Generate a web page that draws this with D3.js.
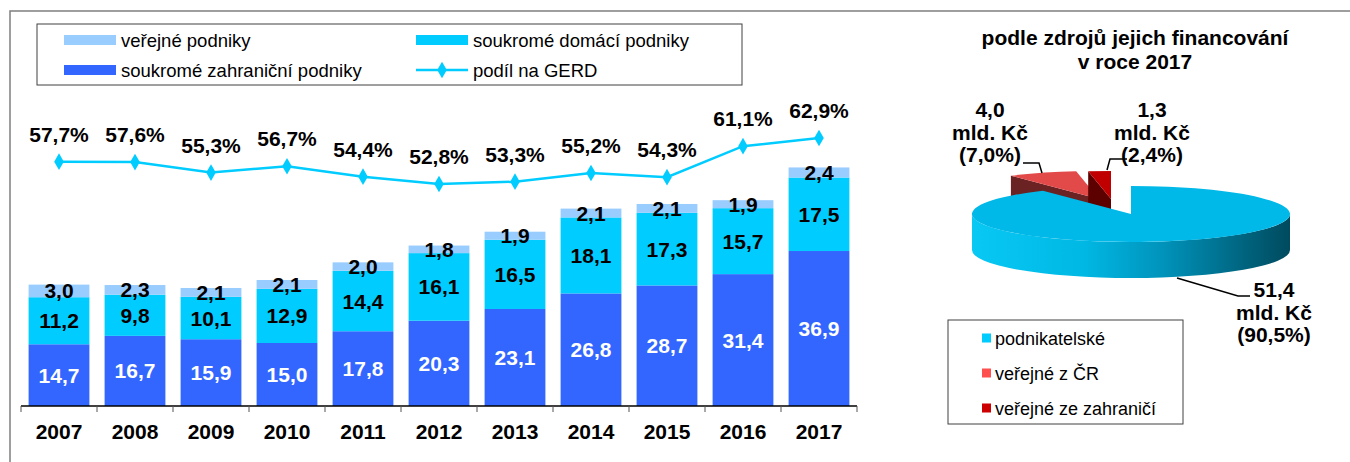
<!DOCTYPE html>
<html>
<head>
<meta charset="utf-8">
<script src="https://cdn.jsdelivr.net/npm/d3@7"></script>
<style>
  body { margin: 0; background: #fff; }
  svg { display: block; font-family: "Liberation Sans", Arial, sans-serif; }
</style>
</head>
<body>
<div id="wrapper"></div>
<script>
// DATA
const years = ['2007', '2008', '2009', '2010', '2011', '2012', '2013', '2014', '2015', '2016', '2017']
const zahranicni = [14.7, 16.7, 15.9, 15.0, 17.8, 20.3, 23.1, 26.8, 28.7, 31.4, 36.9]
const domaci = [11.2, 9.8, 10.1, 12.9, 14.4, 16.1, 16.5, 18.1, 17.3, 15.7, 17.5]
const verejne = [3.0, 2.3, 2.1, 2.1, 2.0, 1.8, 1.9, 2.1, 2.1, 1.9, 2.4]
const podilGerd = [57.7, 57.6, 55.3, 56.7, 54.4, 52.8, 53.3, 55.2, 54.3, 61.1, 62.9]

const barKeys = ['zahranicni', 'domaci', 'verejne']
const barNames = ['soukromé zahraniční podniky', 'soukromé domácí podniky', 'veřejné podniky']
const lineName = 'podíl na GERD'

const pieNames = ['podnikatelské', 'veřejné z ČR', 'veřejné ze zahraničí']
const pieValues = [51.4, 4.0, 1.3]
const piePercents = [90.5, 7.0, 2.4]
const pieTitle = ['podle zdrojů jejich financování', 'v roce 2017']

function drawChart() {
  const width = 1350
  const height = 462

  const cz = d3.formatLocale({ decimal: ',', thousands: ' ', grouping: [3], currency: ['', ''] })
  const fmt = cz.format('.1f')

  const colors = { zahranicni: '#3366ff', domaci: '#00ccff', verejne: '#99ccff' }
  const lineColor = '#00ccff'

  const svg = d3.select('#wrapper')
    .append('svg')
    .attr('width', width)
    .attr('height', height)

  // outer frame (top + left edge)
  svg.append('path')
    .attr('d', `M10,${height} L10,11 L${width},11`)
    .attr('fill', 'none')
    .attr('stroke', '#7f7f7f')
    .attr('stroke-width', 1.5)

  // ---------- BAR CHART ----------
  const table = years.map((y, i) => ({
    year: y, zahranicni: zahranicni[i], domaci: domaci[i], verejne: verejne[i], podil: podilGerd[i]
  }))

  const xScale = d3.scaleBand()
    .domain(years)
    .range([21, 857])
    .paddingInner(0.2)
    .paddingOuter(0.1)

  const yScale = d3.scaleLinear()
    .domain([0, 80])
    .range([406, 70])

  const yPct = d3.scaleLinear()
    .domain([50, 70])
    .range([196.7, 105.7])

  const stacked = d3.stack().keys(barKeys)(table)

  const layers = svg.append('g').selectAll('g')
    .data(stacked)
    .join('g')
    .attr('fill', d => colors[d.key])

  layers.selectAll('rect')
    .data(d => d)
    .join('rect')
    .attr('x', d => xScale(d.data.year))
    .attr('y', d => yScale(d[1]))
    .attr('width', xScale.bandwidth())
    .attr('height', d => yScale(d[0]) - yScale(d[1]))

  // segment labels
  const labels = svg.append('g')
    .attr('font-size', 21)
    .attr('font-weight', 'bold')
    .attr('text-anchor', 'middle')
  stacked.forEach(layer => {
    labels.selectAll(null)
      .data(layer)
      .join('text')
      .attr('x', d => xScale(d.data.year) + xScale.bandwidth() / 2)
      .attr('y', d => (yScale(d[0]) + yScale(d[1])) / 2)
      .attr('dy', '0.36em')
      .attr('fill', layer.key === 'zahranicni' ? '#fff' : '#000')
      .text(d => fmt(d.data[layer.key]))
  })

  // x axis
  const step = xScale.step()
  const x0 = xScale.range()[0]
  svg.append('line')
    .attr('x1', x0).attr('x2', xScale.range()[1])
    .attr('y1', 406).attr('y2', 406)
    .attr('stroke', '#000').attr('stroke-width', 1.5)
  svg.append('g').selectAll('line')
    .data(d3.range(years.length + 1))
    .join('line')
    .attr('x1', i => x0 + i * step).attr('x2', i => x0 + i * step)
    .attr('y1', 406).attr('y2', 412)
    .attr('stroke', '#555').attr('stroke-width', 1)

  const xAxis = svg.append('g')
    .attr('transform', 'translate(0,406)')
    .call(d3.axisBottom(xScale).tickSize(0).tickPadding(18))
  xAxis.select('.domain').remove()
  xAxis.selectAll('text')
    .attr('font-size', 21)
    .attr('font-weight', 'bold')
    .attr('font-family', '"Liberation Sans", Arial, sans-serif')
    .attr('fill', '#000')

  // GERD line
  const lineGenerator = d3.line()
    .x(d => xScale(d.year) + xScale.bandwidth() / 2)
    .y(d => yPct(d.podil))

  svg.append('path')
    .attr('d', lineGenerator(table))
    .attr('fill', 'none')
    .attr('stroke', lineColor)
    .attr('stroke-width', 2.5)

  const diamond = d3.symbol().type(d3.symbolDiamond).size(80)
  svg.append('g').selectAll('path')
    .data(table)
    .join('path')
    .attr('d', diamond)
    .attr('transform', d => `translate(${xScale(d.year) + xScale.bandwidth() / 2},${yPct(d.podil)})`)
    .attr('fill', lineColor)

  svg.append('g').selectAll('text')
    .data(table)
    .join('text')
    .attr('x', d => xScale(d.year) + xScale.bandwidth() / 2)
    .attr('y', d => yPct(d.podil) - 20)
    .attr('text-anchor', 'middle')
    .attr('font-size', 21)
    .attr('font-weight', 'bold')
    .text(d => fmt(d.podil) + '%')

  // legend
  const legend = svg.append('g')
  legend.append('rect')
    .attr('x', 37).attr('y', 24).attr('width', 705).attr('height', 61)
    .attr('fill', '#fff').attr('stroke', '#404040').attr('stroke-width', 1)

  const legendItems = [
    { name: barNames[2], color: colors.verejne, type: 'bar', col: 0, row: 0 },
    { name: barNames[1], color: colors.domaci, type: 'bar', col: 1, row: 0 },
    { name: barNames[0], color: colors.zahranicni, type: 'bar', col: 0, row: 1 },
    { name: lineName, color: lineColor, type: 'line', col: 1, row: 1 }
  ]
  const item = legend.selectAll('g.item')
    .data(legendItems)
    .join('g')
    .attr('class', 'item')
    .attr('transform', d => `translate(${d.col ? 416 : 64},${d.row ? 70 : 40})`)
  item.filter(d => d.type === 'bar').append('rect')
    .attr('x', 0).attr('y', -5).attr('width', 52).attr('height', 10)
    .attr('fill', d => d.color)
  item.filter(d => d.type === 'line').append('line')
    .attr('x1', 0).attr('x2', 52).attr('y1', 0).attr('y2', 0)
    .attr('stroke', lineColor).attr('stroke-width', 2.5)
  item.filter(d => d.type === 'line').append('path')
    .attr('d', diamond)
    .attr('transform', 'translate(26,0)')
    .attr('fill', lineColor)
  item.append('text')
    .attr('x', 57).attr('y', 7)
    .attr('font-size', 18.5)
    .attr('fill', '#000')
    .text(d => d.name)

  // ---------- 3D PIE ----------
  const cx = 1131, cy = 214, rx = 159, ry = 28, depth = 36
  const pt = (a, o = [0, 0]) => [cx + o[0] + rx * Math.sin(a), cy + o[1] - ry * Math.cos(a)]
  const explode = [[0, 0], [-32, -15], [-20, -15]]
  const topColors = ['#00b9e8', '#e24a4a', '#c00000']
  const cutColors = ['#007a98', '#6b2222', '#5c0000']

  const defs = svg.append('defs')
  const grad = defs.append('linearGradient')
    .attr('id', 'sideGrad')
    .attr('gradientUnits', 'userSpaceOnUse')
    .attr('x1', cx - rx).attr('x2', cx + rx).attr('y1', 0).attr('y2', 0)
  grad.selectAll('stop')
    .data([[0, '#08c8f4'], [0.35, '#00b8e4'], [0.6, '#0093bb'], [0.85, '#006580'], [1, '#004a5e']])
    .join('stop')
    .attr('offset', d => d[0])
    .attr('stop-color', d => d[1])

  const arcs = d3.pie().sort(null).value(d => d)(pieValues)
  const pieG = svg.append('g')

  // draw exploded (back) slices first, then the big one
  const order = [1, 2, 0]
  order.forEach(i => {
    const a = arcs[i]
    const o = explode[i]
    const c = [cx + o[0], cy + o[1]]

    // cut face on start edge, if it faces the viewer
    if (Math.cos(a.startAngle - Math.PI / 2) < -0.01) {
      const p = pt(a.startAngle, o)
      pieG.append('path')
        .attr('d', `M${p[0]},${p[1]} L${c[0]},${c[1]} L${c[0]},${c[1] + depth} L${p[0]},${p[1] + depth} Z`)
        .attr('fill', cutColors[i])
    }
    // cut face on end edge
    if (Math.cos(a.endAngle + Math.PI / 2) < -0.01) {
      const p = pt(a.endAngle, o)
      pieG.append('path')
        .attr('d', `M${p[0]},${p[1]} L${c[0]},${c[1]} L${c[0]},${c[1] + depth} L${p[0]},${p[1] + depth} Z`)
        .attr('fill', cutColors[i])
    }
    // outer side wall, front half only
    const s = Math.max(a.startAngle, Math.PI / 2)
    const e = Math.min(a.endAngle, 3 * Math.PI / 2)
    if (e > s) {
      const p1 = pt(s, o), p2 = pt(e, o)
      pieG.append('path')
        .attr('d', `M${p1[0]},${p1[1]} A${rx},${ry} 0 0 1 ${p2[0]},${p2[1]}` +
          ` L${p2[0]},${p2[1] + depth} A${rx},${ry} 0 0 0 ${p1[0]},${p1[1] + depth} Z`)
        .attr('fill', i === 0 ? 'url(#sideGrad)' : cutColors[i])
    }
    // top face
    const p1 = pt(a.startAngle, o), p2 = pt(a.endAngle, o)
    const large = a.endAngle - a.startAngle > Math.PI ? 1 : 0
    pieG.append('path')
      .attr('d', `M${c[0]},${c[1]} L${p1[0]},${p1[1]} A${rx},${ry} 0 ${large} 1 ${p2[0]},${p2[1]} Z`)
      .attr('fill', topColors[i])
  })

  // pie title
  svg.append('g').selectAll('text')
    .data(pieTitle)
    .join('text')
    .attr('x', 1135)
    .attr('y', (d, i) => 45 + i * 24)
    .attr('text-anchor', 'middle')
    .attr('font-size', 21)
    .attr('font-weight', 'bold')
    .text(d => d)

  // pie labels
  const pieLabelPos = [[1274, 297], [990, 117], [1152, 117]]
  const pieLeaders = [
    [[1177, 278], [1238, 296], [1250, 296]],
    [[1023, 163], [1039, 163], [1042, 173]],
    [[1127, 159], [1110, 159], [1107, 170]]
  ]
  pieValues.forEach((v, i) => {
    const t = svg.append('text')
      .attr('x', pieLabelPos[i][0])
      .attr('y', pieLabelPos[i][1])
      .attr('text-anchor', 'middle')
      .attr('font-size', 21)
      .attr('font-weight', 'bold')
    ;[fmt(v), 'mld. Kč', '(' + fmt(piePercents[i]) + '%)'].forEach((line, j) => {
      t.append('tspan')
        .attr('x', pieLabelPos[i][0])
        .attr('dy', j === 0 ? 0 : 22.7)
        .text(line)
    })
    svg.append('path')
      .attr('d', d3.line()(pieLeaders[i]))
      .attr('fill', 'none')
      .attr('stroke', '#000')
      .attr('stroke-width', 1.5)
  })

  // pie legend
  const pieLegend = svg.append('g')
  pieLegend.append('rect')
    .attr('x', 948).attr('y', 320).attr('width', 235).attr('height', 104)
    .attr('fill', '#fff').attr('stroke', '#404040').attr('stroke-width', 1)
  const legendColors = ['#00ccff', '#ff5050', '#cc0000']
  const pItem = pieLegend.selectAll('g.pitem')
    .data(pieNames)
    .join('g')
    .attr('class', 'pitem')
    .attr('transform', (d, i) => `translate(982,${338 + i * 35})`)
  pItem.append('rect')
    .attr('x', 0).attr('y', -4.5).attr('width', 9).attr('height', 9)
    .attr('fill', (d, i) => legendColors[i])
  pItem.append('text')
    .attr('x', 13).attr('y', 6.5)
    .attr('font-size', 18)
    .text(d => d)
}

drawChart()
</script>
</body>
</html>
